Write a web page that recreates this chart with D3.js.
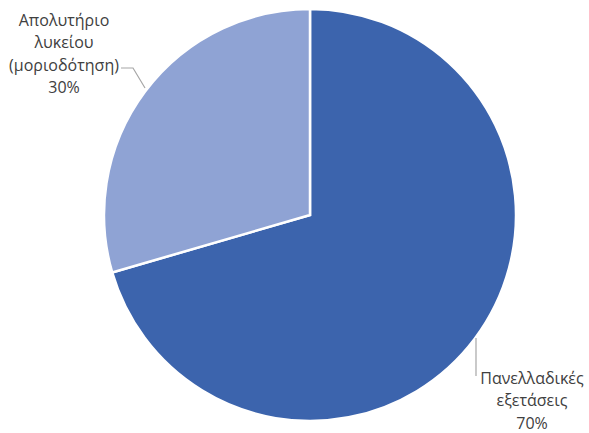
<!DOCTYPE html>
<html>
<head>
<meta charset="utf-8">
<script src="https://cdn.jsdelivr.net/npm/d3@7"></script>
<style>
  body { margin: 0; background: #fff; }
  text { font-family: "Open Sans", "Noto Sans", sans-serif; font-size: 16px; fill: #404040; }
</style>
</head>
<body>
<div id="container"></div>
<script>
// data
var categories = ["Πανελλαδικές εξετάσεις", "Απολυτήριο λυκείου (μοριοδότηση)"];
var values = [70.5, 29.5];
var labelLines = [["Πανελλαδικές", "εξετάσεις", "70%"], ["Απολυτήριο", "λυκείου", "(μοριοδότηση)", "30%"]];
var colors = ["#3c64ad", "#8fa3d4"];

var width = 589, height = 433;
var cx = 310, cy = 215, radius = 206;

var svg = d3.select("#container").append("svg")
  .attr("width", width).attr("height", height);

var pie = d3.pie().sort(null).value(function (d) { return d; });
var arc = d3.arc().innerRadius(0).outerRadius(radius);
var arcs = pie(values);

var g = svg.append("g").attr("transform", "translate(" + cx + "," + cy + ")");
g.selectAll("path")
  .data(arcs)
  .enter()
  .append("path")
  .attr("d", arc)
  .attr("fill", function (d, i) { return colors[i]; })
  .attr("stroke", "#fff")
  .attr("stroke-width", 2.5);

// leader lines
var leaders = [
  [[476, 338], [476, 376]],
  [[121, 68], [133, 68], [145, 88]]
];
svg.selectAll("polyline")
  .data(leaders)
  .enter()
  .append("polyline")
  .attr("points", function (d) { return d.map(function (p) { return p.join(","); }).join(" "); })
  .attr("fill", "none")
  .attr("stroke", "#a6a6a6")
  .attr("stroke-width", 1.2);

// labels
var labelPos = [[532, 384], [64, 26]];
var lineH = 22.3;
labelLines.forEach(function (lines, i) {
  var t = svg.append("text")
    .attr("text-anchor", "middle")
    .attr("x", labelPos[i][0])
    .attr("y", labelPos[i][1]);
  lines.forEach(function (l, j) {
    t.append("tspan")
      .attr("x", labelPos[i][0])
      .attr("y", labelPos[i][1] + j * lineH)
      .text(l);
  });
});
</script>
</body>
</html>
